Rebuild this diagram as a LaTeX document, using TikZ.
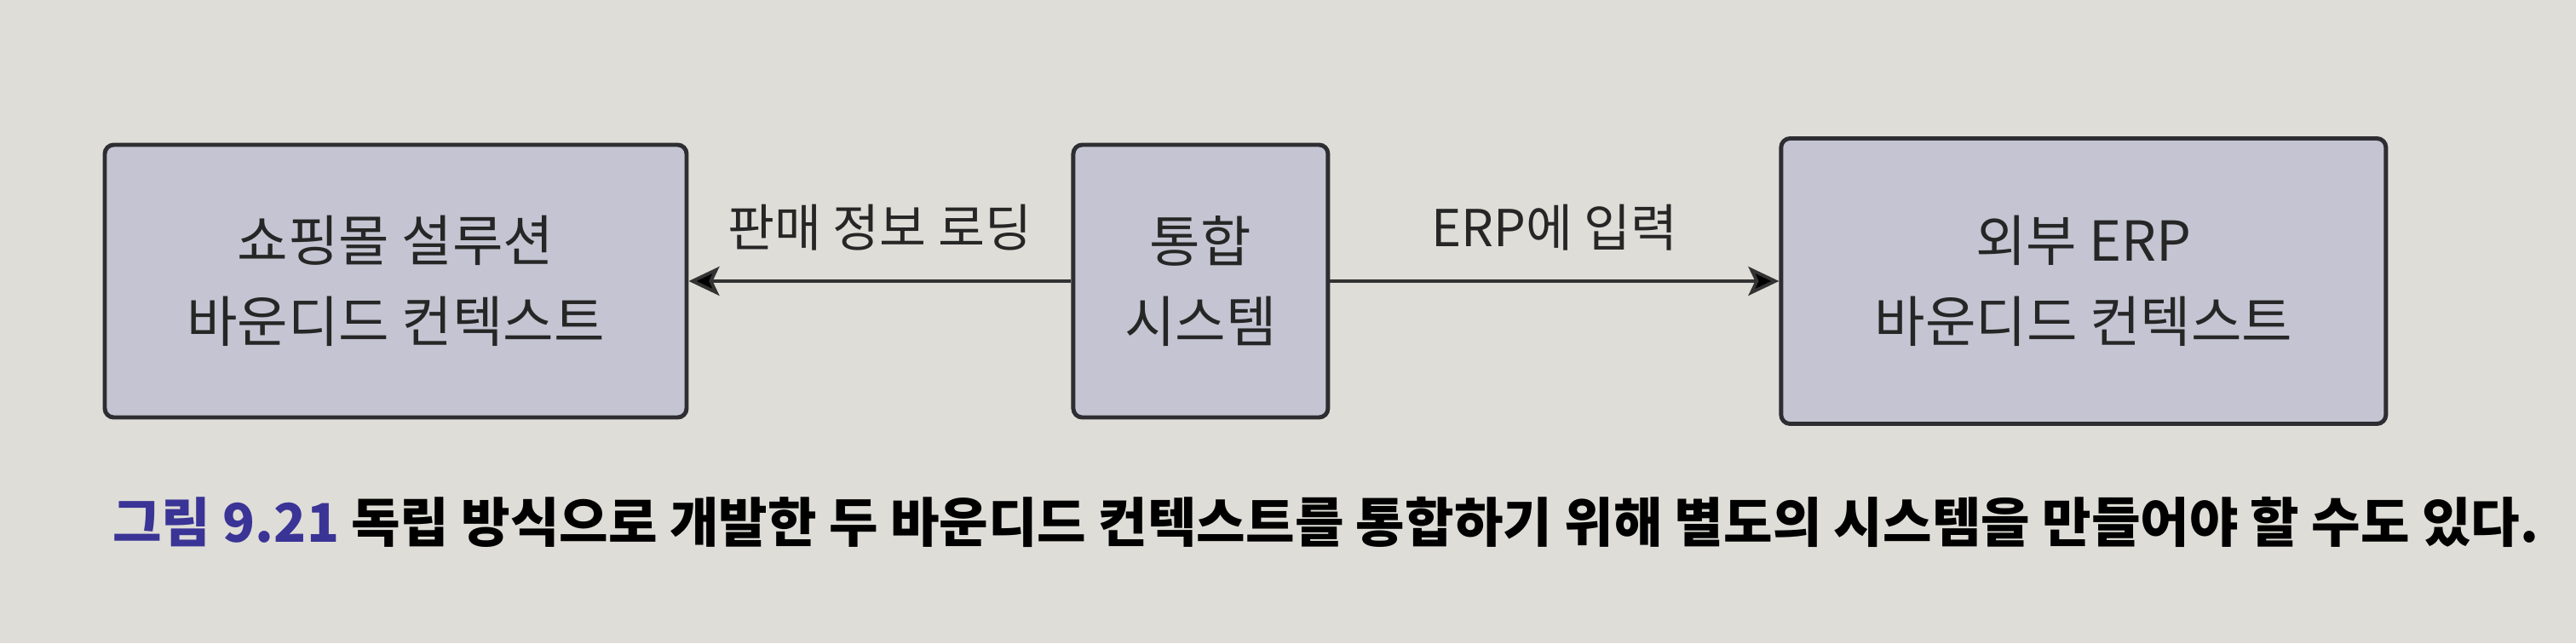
\documentclass[tikz,border=0pt]{standalone}
\usepackage{fontspec}
\setmainfont{Noto Sans CJK KR}
\usepackage{tikz}
\usetikzlibrary{positioning, arrows.meta, calc}
\definecolor{paper}{RGB}{222,221,215}
\definecolor{boxfill}{RGB}{196,196,210}
\definecolor{boxline}{RGB}{45,45,50}
\definecolor{figblue}{RGB}{58,52,150}
\tikzset{
	->,
	>={Stealth[length=0.36cm, width=0.34cm, inset=0.08cm]},
	sysbox/.style={draw=boxline, line width=1.4pt, fill=boxfill, rounded corners=3pt,
		align=center, minimum height=3.2cm, font=\fontsize{18.4}{27}\selectfont, text=black!85},
	flowlabel/.style={font=\fontsize{17}{20}\selectfont, text=black!85},
	flow/.style={line width=1.1pt, draw=black!80},
}
\begin{document}
\begin{tikzpicture}
			\fill[paper] (0,0) rectangle (30.24,7.55);
			\useasboundingbox (0,0) rectangle (30.24,7.55);
			
			\node[sysbox, minimum width=6.83cm] (SHOP) at (4.645,4.25) {쇼핑몰 설루션\\바운디드 컨텍스트};
			\node[sysbox, minimum width=2.99cm, right=4.49cm of SHOP] (INTEG) {통합\\시스템};
			\node[sysbox, minimum width=7.1cm, minimum height=3.35cm, right=5.27cm of INTEG] (ERP) {외부 ERP\\바운디드 컨텍스트};
			\node[anchor=west, font=\fontsize{17.8}{20}\selectfont\bfseries] (caption) at (1.2,1.42)
				{\textcolor{figblue}{그림 9.21} 독립 방식으로 개발한 두 바운디드 컨텍스트를 통합하기 위해 별도의 시스템을 만들어야 할 수도 있다.};
			
			\draw[flow] (INTEG) edge[] node[flowlabel, above=0.22cm]{판매 정보 로딩} (SHOP);
			\draw[flow] (INTEG) edge[] node[flowlabel, above=0.22cm]{ERP에 입력} (ERP);
			
		\end{tikzpicture}
\end{document}
